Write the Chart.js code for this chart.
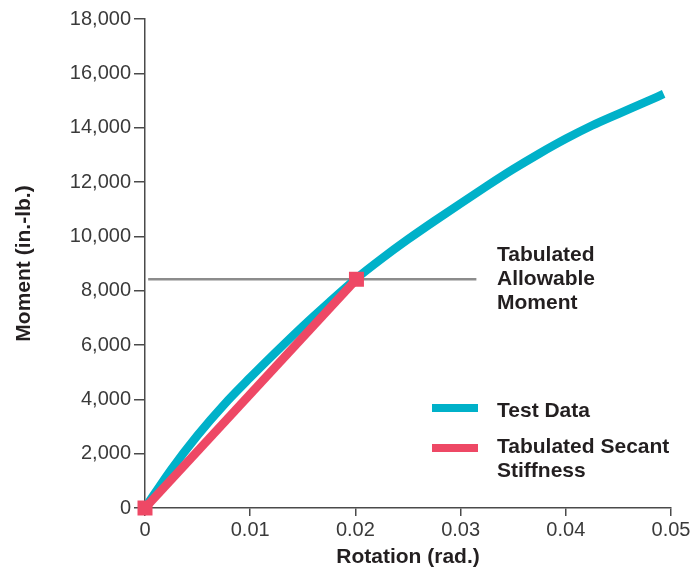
<!DOCTYPE html>
<html>
<head>
<meta charset="utf-8">
<script src="https://cdn.jsdelivr.net/npm/chart.js@4"></script>
<style>
  html, body { margin: 0; padding: 0; background: #fff; }
  #wrap { width: 700px; height: 571px; }
</style>
</head>
<body>
<div id="wrap"><canvas id="chart" width="700" height="571"></canvas></div>
<script>
// test data
const testRotation = [0, 0.0025, 0.005, 0.0075, 0.01, 0.0125, 0.015, 0.0175, 0.02, 0.0225, 0.025, 0.0275, 0.03, 0.0325, 0.035, 0.0375, 0.04, 0.0425, 0.045, 0.0475, 0.0493];
const testMoment = [0, 1420, 2680, 3800, 4800, 5760, 6690, 7570, 8420, 9180, 9890, 10560, 11210, 11850, 12470, 13050, 13590, 14080, 14510, 14930, 15240];

const secantRotation = [0, 0.0201];
const secantMoment = [0, 8420];

const allowRotation = [0.0003, 0.0315];
const allowMoment = [8420, 8420];

const xTicks = [0, 0.01, 0.02, 0.03, 0.04, 0.05];
const yTicks = [0, 2000, 4000, 6000, 8000, 10000, 12000, 14000, 16000, 18000];

const teal = '#00b1c9';
const red = '#ee4865';
const gray = '#8c8c8c';
const axisColor = '#4a4a4a';
const family = 'Liberation Sans, Arial, Helvetica, sans-serif';
const tickFont = { family: family, size: 20 };
const titleFont = { family: family, size: 21, weight: 'bold' };

const toPts = (xs, ys) => xs.map((x, i) => ({ x: x, y: ys[i] }));

// labels inside the plot: allowable moment note + legend
const notes = {
  id: 'notes',
  afterDatasetsDraw(chart) {
    const ctx = chart.ctx;
    ctx.save();
    ctx.font = 'bold 21px ' + family;
    ctx.fillStyle = '#231f20';
    ctx.textBaseline = 'alphabetic';
    ctx.textAlign = 'left';
    const tx = 497;
    ctx.fillText('Tabulated', tx, 261);
    ctx.fillText('Allowable', tx, 285);
    ctx.fillText('Moment', tx, 309);
    ctx.fillText('Test Data', tx, 417);
    ctx.fillText('Tabulated Secant', tx, 453);
    ctx.fillText('Stiffness', tx, 477);
    ctx.lineWidth = 8;
    ctx.strokeStyle = teal;
    ctx.beginPath(); ctx.moveTo(432, 408); ctx.lineTo(478, 408); ctx.stroke();
    ctx.strokeStyle = red;
    ctx.beginPath(); ctx.moveTo(432, 448); ctx.lineTo(478, 448); ctx.stroke();
    ctx.restore();
  }
};

new Chart(document.getElementById('chart'), {
  type: 'scatter',
  data: {
    datasets: [
      {
        label: 'Tabulated Allowable Moment',
        data: toPts(allowRotation, allowMoment),
        order: 3,
        showLine: true, borderColor: gray, borderWidth: 2.5,
        pointRadius: 0, clip: false
      },
      {
        label: 'Test Data',
        data: toPts(testRotation, testMoment),
        order: 2,
        showLine: true, borderColor: teal, borderWidth: 8.5,
        cubicInterpolationMode: 'monotone',
        pointRadius: 0, borderCapStyle: 'butt', clip: false
      },
      {
        label: 'Tabulated Secant Stiffness',
        data: toPts(secantRotation, secantMoment),
        order: 1,
        showLine: true, borderColor: red, borderWidth: 8.5,
        pointStyle: 'rect', pointRadius: 10.6, pointBackgroundColor: red,
        pointBorderColor: red, pointBorderWidth: 0,
        clip: false
      }
    ]
  },
  options: {
    responsive: false,
    animation: false,
    layout: { padding: { top: 19, right: 29, left: 0, bottom: 0 } },
    plugins: { legend: { display: false }, tooltip: { enabled: false } },
    scales: {
      x: {
        type: 'linear', min: 0, max: 0.05,
        afterBuildTicks: s => { s.ticks = xTicks.map(v => ({ value: v })); },
        afterFit: s => { s.height = 63; },
        ticks: { color: '#3a3a3a', font: tickFont, padding: 2, maxRotation: 0,
                 callback: v => v === 0 ? '0' : String(+v.toFixed(2)) },
        grid: { drawOnChartArea: false, drawTicks: true, tickLength: 8, color: axisColor, lineWidth: 1.5 },
        border: { color: axisColor, width: 1.5 },
        title: { display: true, text: 'Rotation (rad.)', color: '#231f20', font: titleFont, padding: { top: 0, bottom: 1 } }
      },
      y: {
        type: 'linear', min: 0, max: 18000,
        afterBuildTicks: s => { s.ticks = yTicks.map(v => ({ value: v })); },
        afterFit: s => { s.width = 145; },
        ticks: { color: '#3a3a3a', font: tickFont, padding: 3,
                 callback: v => v.toLocaleString('en-US') },
        grid: { drawOnChartArea: false, drawTicks: true, tickLength: 11, color: axisColor, lineWidth: 1.5 },
        border: { color: axisColor, width: 1.5 },
        title: { display: true, text: 'Moment (in.-lb.)', color: '#231f20', font: titleFont, padding: { top: 12, bottom: 0 } }
      }
    }
  },
  plugins: [notes]
});
</script>
</body>
</html>
